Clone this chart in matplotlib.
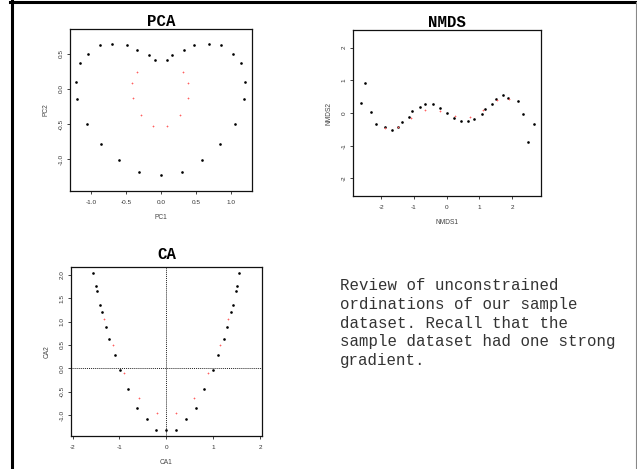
import matplotlib
matplotlib.use("Agg")
import matplotlib.pyplot as plt
from matplotlib.lines import Line2D

W, H = 637, 469
DPI = 100

# --- PCA (heart shaped arch) ---
pca_black_x = [-0.87, -0.70, -0.49, -0.34, -0.17, -0.09, 0.08, 0.16, 0.33, 0.47, 0.69, 0.85,
               -1.05, 1.03, -1.16, 1.14, -1.21, 1.20, -1.20, 1.18, -1.06, 1.05,
               -0.86, 0.84, -0.60, 0.59, -0.32, 0.30, 0.00]
pca_black_y = [0.63, 0.64, 0.63, 0.56, 0.49, 0.42, 0.42, 0.49, 0.56, 0.63, 0.64, 0.63,
               0.50, 0.50, 0.37, 0.37, 0.10, 0.10, -0.14, -0.14, -0.50, -0.50,
               -0.78, -0.78, -1.02, -1.02, -1.18, -1.18, -1.23]
pca_red_x = [-0.34, 0.32, -0.41, 0.39, -0.40, 0.38, -0.29, 0.27, -0.12, 0.09]
pca_red_y = [0.24, 0.24, 0.08, 0.08, -0.13, -0.13, -0.37, -0.37, -0.53, -0.53]

# --- NMDS ---
nmds_black_x = [-2.64, -2.49, -2.32, -2.16, -1.88, -1.69, -1.49, -1.37, -1.16, -1.07,
                -0.83, -0.66, -0.43, -0.22, 0.01, 0.21, 0.43, 0.66, 0.85, 1.08,
                1.17, 1.38, 1.51, 1.72, 1.89, 2.18, 2.34, 2.50, 2.66]
nmds_black_y = [0.32, 0.93, 0.03, -0.35, -0.43, -0.53, -0.42, -0.29, -0.13, 0.05,
                0.18, 0.27, 0.27, 0.16, 0.00, -0.14, -0.26, -0.26, -0.17, -0.04,
                0.13, 0.29, 0.44, 0.54, 0.45, 0.38, -0.03, -0.90, -0.33]
nmds_red_x = [-1.90, -1.50, -1.08, -0.66, -0.21, 0.24, 0.70, 1.11, 1.53, 1.91]
nmds_red_y = [-0.46, -0.44, -0.14, 0.08, 0.05, -0.10, -0.13, 0.09, 0.39, 0.42]

# --- CA (arch) ---
ca_black_x = [-1.556, -1.506, -1.485, -1.414, -1.378, -1.293, -1.229, -1.101, -0.995,
              -0.810, -0.632, -0.419, -0.213, 0.0, 0.213, 0.419, 0.632, 0.810, 1.002,
              1.101, 1.222, 1.286, 1.385, 1.414, 1.485, 1.506, 1.556]
ca_black_y = [2.03, 1.76, 1.65, 1.36, 1.20, 0.876, 0.634, 0.278, -0.028,
              -0.442, -0.848, -1.075, -1.311, -1.311, -1.311, -1.075, -0.848, -0.442, -0.028,
              0.278, 0.634, 0.876, 1.20, 1.36, 1.65, 1.76, 2.03]
ca_red_x = [-1.321, -1.144, -0.895, -0.575, -0.199, 0.206, 0.583, 0.895, 1.144, 1.321]
ca_red_y = [1.047, 0.491, -0.107, -0.641, -0.954, -0.954, -0.641, -0.107, 0.491, 1.047]

pca_xticks = [-1.0, -0.5, 0.0, 0.5, 1.0]
pca_yticks = [-1.0, -0.5, 0.0, 0.5]
nmds_ticks = [-2, -1, 0, 1, 2]
ca_xticks = [-2, -1, 0, 1, 2]
ca_yticks = [-1.0, -0.5, 0.0, 0.5, 1.0, 1.5, 2.0]

caption = ["Review of unconstrained",
           "ordinations of our sample",
           "dataset. Recall that the",
           "sample dataset had one strong",
           "gradient."]

MONO = ["Liberation Mono", "DejaVu Sans Mono"]
SANS = ["Liberation Sans", "DejaVu Sans"]

fig = plt.figure(figsize=(W / DPI, H / DPI), dpi=DPI)


def px_axes(left, top, right, bottom):
    """add axes from pixel box (y measured from top)"""
    return fig.add_axes([left / W, 1 - bottom / H, (right - left) / W, (bottom - top) / H])


def style(ax, title, xlabel, ylabel, pad_title, xfmt, yfmt, xticks, yticks, box_px):
    bw, bh = box_px
    ax.set_xticks(xticks)
    ax.set_yticks(yticks)
    ax.set_xticklabels([xfmt(v) for v in xticks], family=SANS, color="#333333")
    ax.set_yticklabels([yfmt(v) for v in yticks], family=SANS, color="#333333",
                       rotation=90, va="center")
    ax.tick_params(length=2.2, width=0.6, labelsize=4.6, pad=4.0, color="#222222")
    ax.tick_params(axis="y", pad=2.2)
    for s in ax.spines.values():
        s.set_linewidth(0.9)
        s.set_color("#111111")
    ax.set_title(title, family=MONO, fontweight="bold", fontsize=11.3, pad=pad_title)
    ax.set_xlabel(xlabel, family=SANS, fontsize=4.8, color="#444444")
    ax.set_ylabel(ylabel, family=SANS, fontsize=4.8, color="#444444")
    ax.xaxis.set_label_coords(0.5, -23 / bh)
    ax.yaxis.set_label_coords(-20 / bw, 0.5)


def dots(ax, bx, by, rx, ry):
    ax.plot(bx, by, "o", color="black", ms=1.9, mew=0, zorder=3)
    ax.plot(rx, ry, "+", color="#ff6060", ms=2.0, mew=0.5, zorder=3)


# PCA
ax1 = px_axes(69.5, 29, 252, 191)
dots(ax1, pca_black_x, pca_black_y, pca_red_x, pca_red_y)
ax1.set_xlim(-1.31, 1.30)
ax1.set_ylim(-1.457, 0.857)
style(ax1, "PCA", "PC1", "PC2", -0.5, lambda v: f"{v:.1f}", lambda v: f"{v:.1f}",
      pca_xticks, pca_yticks, (182.5, 162))

# NMDS
ax2 = px_axes(352.7, 30, 540.7, 196)
dots(ax2, nmds_black_x, nmds_black_y, nmds_red_x, nmds_red_y)
ax2.set_xlim(-2.88, 2.88)
ax2.set_ylim(-2.54, 2.54)
style(ax2, "NMDS", "NMDS1", "NMDS2", 0.8, lambda v: f"{v:d}", lambda v: f"{v:d}",
      nmds_ticks, nmds_ticks, (188, 166))

# CA
ax3 = px_axes(70.7, 267.3, 262.3, 436)
ax3.axhline(0, color="#222222", lw=0.7, ls=(0, (1, 1)), zorder=1)
ax3.axvline(0, color="#222222", lw=0.7, ls=(0, (1, 1)), zorder=1)
dots(ax3, ca_black_x, ca_black_y, ca_red_x, ca_red_y)
ax3.set_xlim(-2.04, 2.05)
ax3.set_ylim(-1.446, 2.16)
style(ax3, "CA", "CA1", "CA2", 5.8, lambda v: f"{v:d}", lambda v: f"{v:.1f}",
      ca_xticks, ca_yticks, (191.6, 168.7))

# caption text
for i, line in enumerate(caption):
    fig.text(340 / W, 1 - (290 + i * 18.8) / H, line, family=MONO, fontsize=11.3,
             color="#333333", va="baseline", ha="left")

# slide frame
fig.add_artist(Line2D([11.5 / W, 11.5 / W], [0, 1], color="black", lw=2.2,
                      transform=fig.transFigure))
fig.add_artist(Line2D([10 / W, 636 / W], [1 - 2.5 / H, 1 - 2.5 / H], color="black", lw=2.2,
                      transform=fig.transFigure))
fig.add_artist(Line2D([636 / W, 636 / W], [0, 1 - 2.5 / H], color="#888888", lw=0.8,
                      transform=fig.transFigure))

fig.savefig("out.png", dpi=DPI)
